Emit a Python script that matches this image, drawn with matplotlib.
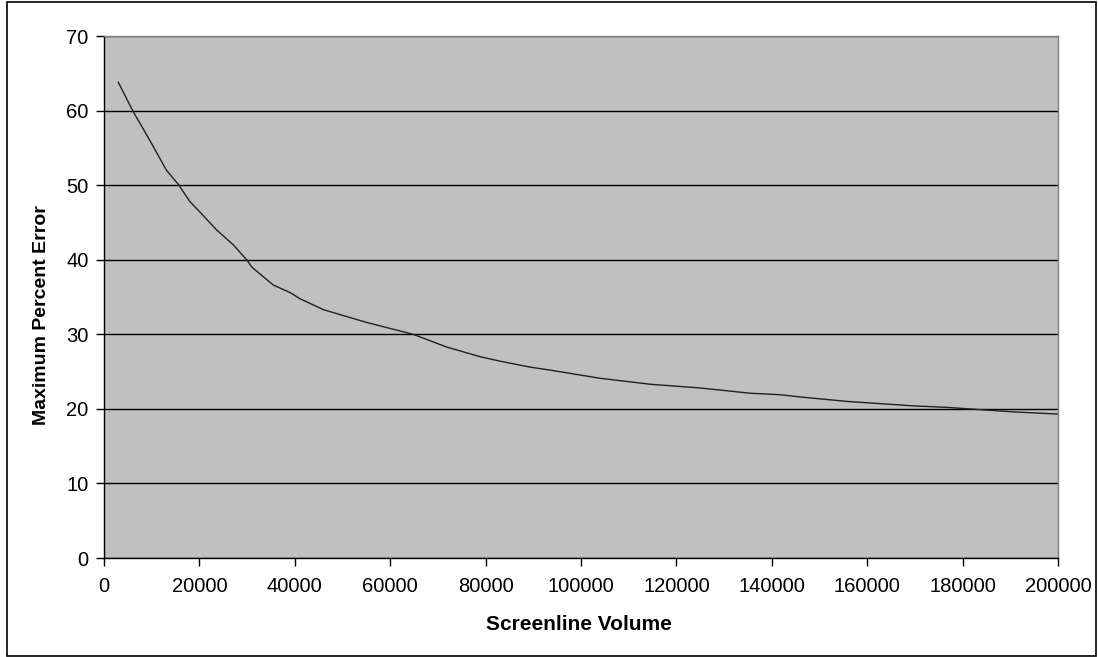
import matplotlib
matplotlib.use("Agg")
import matplotlib.pyplot as plt
from matplotlib.patches import Rectangle

# values
volume = [3000, 6000, 9600, 13100, 15700, 18000, 20100, 23600, 27100, 29900,
          31000, 35500, 39000, 41000, 46000, 55000, 64800, 71800, 78800, 83000,
          89300, 93500, 104000, 114500, 125000, 135400, 141700, 145900, 155700,
          169700, 176700, 183600, 190600, 200000]
max_pct_error = [63.8, 60.0, 56.0, 52.0, 50.0, 47.8, 46.4, 44.0, 42.0, 40.0,
                 39.0, 36.6, 35.6, 34.8, 33.3, 31.6, 30.0, 28.3, 27.0, 26.4,
                 25.6, 25.2, 24.1, 23.3, 22.8, 22.1, 21.9, 21.6, 21.0,
                 20.4, 20.2, 19.9, 19.6, 19.3]
x_ticks = list(range(0, 200001, 20000))
y_ticks = list(range(0, 71, 10))

plt.rcParams["font.family"] = ["Liberation Sans", "DejaVu Sans"]

fig = plt.figure(figsize=(10.98, 6.57), dpi=100)
ax = fig.add_axes([104 / 1098, 99 / 657, 954 / 1098, 522 / 657])
ax.set_facecolor("#c0c0c0")

ax.plot(volume, max_pct_error, color="#202020", lw=1.0)

ax.set_xlim(0, 200000)
ax.set_ylim(0, 70)
ax.set_xticks(x_ticks)
ax.set_yticks(y_ticks)
ax.set_xticklabels([str(t) for t in x_ticks])
ax.set_yticklabels([str(t) for t in y_ticks])
ax.tick_params(direction="out", length=6, width=1, labelsize=14.5,
               colors="black", pad=5)
ax.tick_params(axis="x", pad=8)

ax.grid(axis="y", color="black", lw=1)
ax.set_axisbelow(True)
for side in ("top", "right"):
    ax.spines[side].set_color("#808080")
    ax.spines[side].set_linewidth(1)
for side in ("left", "bottom"):
    ax.spines[side].set_color("black")
    ax.spines[side].set_linewidth(1)

fig.text(579 / 1098, 1 - 625 / 657, "Screenline Volume", ha="center",
         va="center", fontsize=15, fontweight="bold")
fig.text(42 / 1098, 1 - 315 / 657, "Maximum Percent Error", ha="center",
         va="center", rotation=90, fontsize=14, fontweight="bold")

fig.patches.append(Rectangle((7 / 1098, 1 / 657), 1089 / 1098, 654 / 657,
                             transform=fig.transFigure, fill=False,
                             edgecolor="black", lw=1.2))

fig.savefig("out.png", dpi=100)
